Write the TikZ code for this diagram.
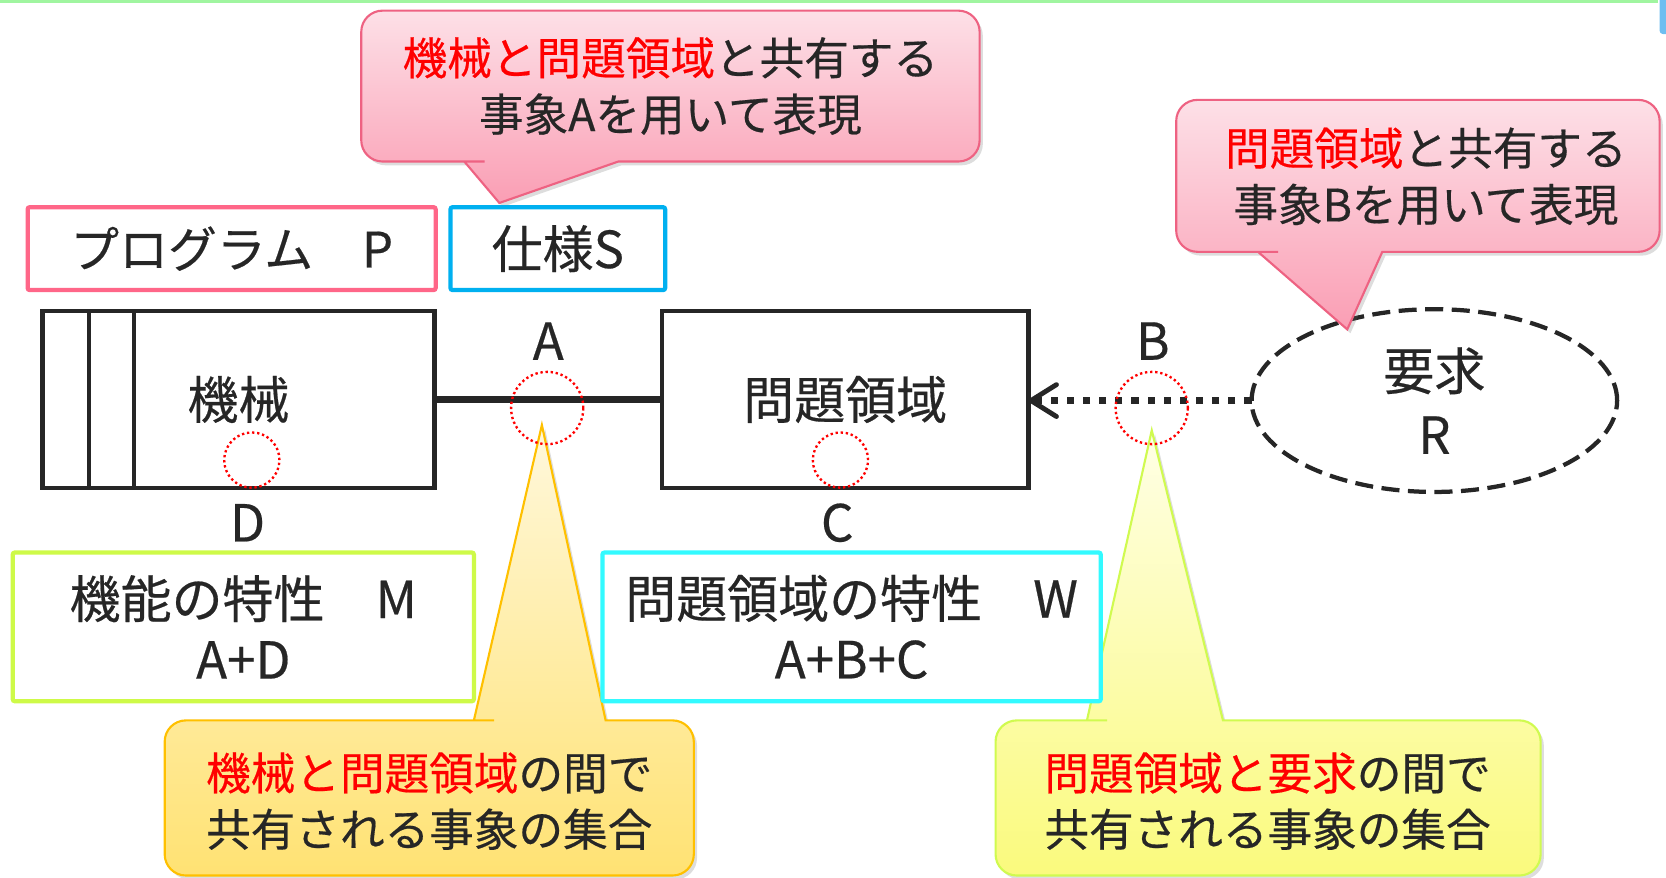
\documentclass[tikz,border=0pt]{standalone}
\usepackage{fontspec}
\setmainfont{Noto Sans CJK JP}[FakeBold=0.4]
\usetikzlibrary{arrows.meta,shapes.geometric,shadows}
\definecolor{txt}{RGB}{38,38,38}
\definecolor{pinkB}{RGB}{238,98,130}
\definecolor{pinkT}{RGB}{253,224,231}
\definecolor{pinkBot}{RGB}{250,158,180}
\definecolor{progB}{RGB}{255,102,136}
\definecolor{specB}{RGB}{0,176,240}
\definecolor{limeB}{RGB}{206,250,72}
\definecolor{cyanB}{RGB}{51,250,255}
\definecolor{orB}{RGB}{255,192,0}
\definecolor{yelT}{RGB}{255,248,220}
\definecolor{yelBot}{RGB}{255,226,115}
\definecolor{ylB}{RGB}{208,250,80}
\definecolor{ylT}{RGB}{255,255,230}
\definecolor{ylBot}{RGB}{250,250,125}
\definecolor{redT}{RGB}{255,0,0}
\definecolor{topG}{RGB}{160,245,160}
\definecolor{cornerB}{RGB}{110,190,240}
\newcommand\redtxt[1]{\textcolor{redT}{#1}}
\begin{document}
\begin{tikzpicture}[x=0.5pt,y=-0.5pt,
  every node/.style={text=txt, inner sep=0pt, outer sep=0pt, align=center},
  bodyf/.style={font=\fontsize{24}{28.5}\selectfont},
  callf/.style={font=\fontsize{21}{26.5}\selectfont},
  blkbox/.style={draw=txt, line width=2pt, bodyf},
  colbox/.style={draw=#1, line width=2pt, fill=white, rounded corners=1pt, bodyf},
  redc/.style={circle, draw=redT, line width=1.1pt, dash pattern=on 1.1pt off 1.3pt, minimum size=#1},
  shad/.style={drop shadow={shadow xshift=1.5pt, shadow yshift=-1.8pt, opacity=0.22, fill=black!60}},
  callP/.style={draw=pinkB, line width=1pt, top color=pinkT, bottom color=pinkBot, shad},
  callO/.style={draw=orB, line width=1pt, top color=yelT, bottom color=yelBot, shad},
  callL/.style={draw=ylB, line width=1pt, top color=ylT, bottom color=ylBot, shad},
  conn/.style={draw=txt, line width=3pt},
  dotconn/.style={draw=txt, line width=3.4pt, dash pattern=on 3.4pt off 4.2pt,
     -{Straight Barb[length=12pt,width=15pt,line width=2.3pt,round]}},
  lbl/.style={bodyf}
]
\useasboundingbox (0,0) rectangle (1568,826);
% top decorations
\fill[topG] (0,0) rectangle (1560,2.5);
\fill[cornerB, rounded corners=1.5pt] (1562,-6) rectangle (1572,32);

% main nodes
\node[blkbox, minimum width=184.5pt, minimum height=83pt] (mach) at (224.5,376) {機械};
\draw[txt, line width=2pt] ([xshift=22pt]mach.north west) -- ([xshift=22pt]mach.south west);
\draw[txt, line width=2pt] ([xshift=43pt]mach.north west) -- ([xshift=43pt]mach.south west);
\node[blkbox, minimum width=172.5pt, minimum height=83pt] (pd) at (795.5,376) {問題領域};
\node[ellipse, draw=txt, line width=2pt, dash pattern=on 8.5pt off 4pt,
      minimum width=172pt, minimum height=86pt, font=\fontsize{24}{30}\selectfont] (req) at (1350,377) {要求\\R};

\draw[conn] (mach.east) -- (pd.west);
\draw[dotconn] (req.west) -- (req.west -| pd.east);

\node[lbl] (lA) at (516,321) {A};
\node[lbl] (lB) at (1085,321) {B};
\node[lbl] (lD) at (233,492) {D};
\node[lbl] (lC) at (788,492) {C};

% callouts
\path[callP] (470,191) -- (582,152) -- (583,152) [rounded corners=10pt] -- (922,152) -- (922,10) -- (340,10) -- (340,152) -- (436,152) [sharp corners] -- (437,152) -- cycle;
\node[callf] (t1) at (631,81) {\redtxt{機械と問題領域}と共有する\\事象Aを用いて表現};

\path[callP] (1268,310) -- (1301,237) -- (1302,237) [rounded corners=10pt] -- (1562,237) -- (1562,94) -- (1107,94) -- (1107,237) -- (1183,237) [sharp corners] -- (1184,237) -- cycle;
\node[callf] (t2) at (1342,166) {\redtxt{問題領域}と共有する\\事象Bを用いて表現};

\path[callO] (510,400) -- (570,678) -- (571,678) [rounded corners=10pt] -- (653,678) -- (653,824) -- (155,824) -- (155,678) -- (445,678) [sharp corners] -- (446,678) -- cycle;
\node[callf] (t3) at (404,754) {\redtxt{機械と問題領域}の間で\\共有される事象の集合};

\path[callL] (1084,405) -- (1151,678) -- (1152,678) [rounded corners=10pt] -- (1450,678) -- (1450,824) -- (937,824) -- (937,678) -- (1022,678) [sharp corners] -- (1023,678) -- cycle;
\node[callf] (t4) at (1193,754) {\redtxt{問題領域と要求}の間で\\共有される事象の集合};

% coloured boxes
\node[colbox=progB, minimum width=192pt, minimum height=39pt, font=\fontsize{23}{28}\selectfont] (prog) at (218,234) {プログラム　P};
\node[colbox=specB, minimum width=101pt, minimum height=39pt] (spec) at (525,234) {仕様S};
\node[colbox=limeB, minimum width=217pt, minimum height=70pt] (propM) at (229,590) {機能の特性　M\\A+D};
\node[colbox=cyanB, minimum width=234.5pt, minimum height=70pt] (propW) at (801.5,590) {問題領域の特性　W\\A+B+C};

% red dotted circles
\node[redc=26pt] (cD) at (237,433) {};
\node[redc=34pt] (cA) at (515,384) {};
\node[redc=26pt] (cC) at (791,433) {};
\node[redc=34pt] (cB) at (1084,384) {};
\end{tikzpicture}
\end{document}
